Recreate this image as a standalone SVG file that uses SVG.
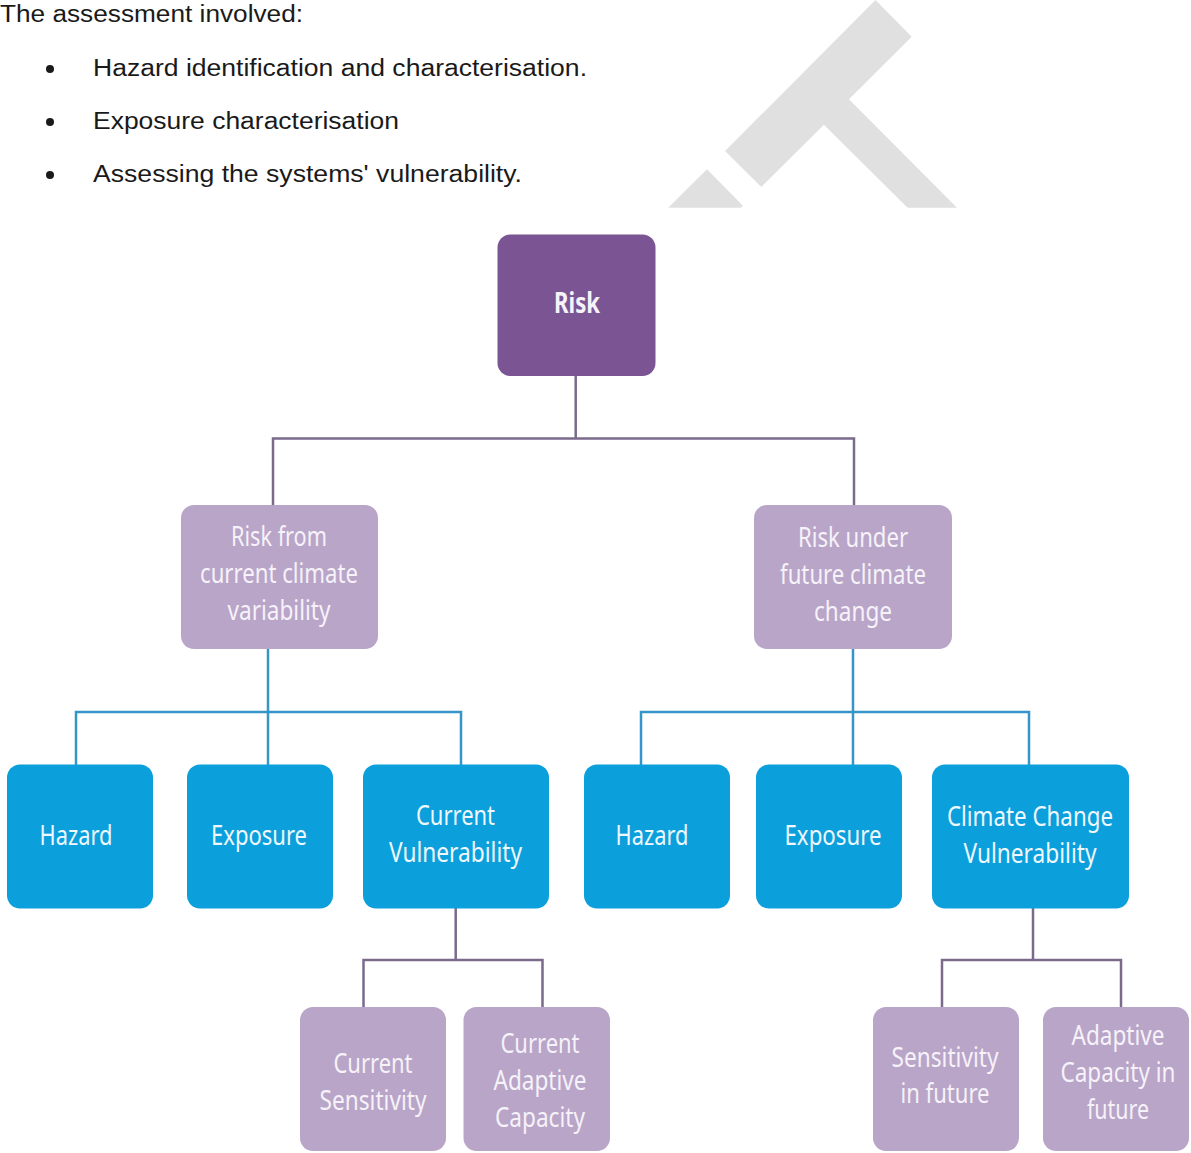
<svg xmlns="http://www.w3.org/2000/svg" width="1191" height="1153" viewBox="0 0 1191 1153">
  <style>
    .intro { font-family: "Liberation Sans", Arial, sans-serif; font-size: 23.5px; fill: #1a1a1a; }
    .lbl { font-family: "Noto Sans", "Open Sans", sans-serif; font-size: 28px; text-anchor: middle; }
    .onBlue { fill: #eef8fd; }
    .onLav { fill: #f6f2f9; }
    .root { fill: #7b5493; }
    .lav { fill: #b9a5c8; }
    .blue { fill: #0b9fdc; }
    .linkP { stroke: #7b6a8c; stroke-width: 2.5; fill: none; }
    .linkB { stroke: #3496c8; stroke-width: 2.5; fill: none; }
  </style>

  <rect width="1191" height="1153" fill="#ffffff"/>

  <!-- faint logo mark at the top -->
  <g id="watermark" fill="#e0e0e0">
    <polygon points="875.5,0 911.7,36.7 849,99.3 957,207.7 907.6,207.7 823.9,124.7 761.3,187 725,151"/>
    <polygon points="668.2,207.7 707,169.3 742.9,205.7 741,207.7"/>
  </g>

  <!-- intro text -->
  <g id="intro">
    <text class="intro" x="0" y="22" textLength="303" lengthAdjust="spacingAndGlyphs">The assessment involved:</text>
    <circle cx="50" cy="69" r="4" fill="#1a1a1a"/>
    <text class="intro" x="93" y="75.7" textLength="494" lengthAdjust="spacingAndGlyphs">Hazard identification and characterisation.</text>
    <circle cx="50" cy="122" r="4" fill="#1a1a1a"/>
    <text class="intro" x="93" y="128.7" textLength="306" lengthAdjust="spacingAndGlyphs">Exposure characterisation</text>
    <circle cx="50" cy="175" r="4" fill="#1a1a1a"/>
    <text class="intro" x="93" y="181.7" textLength="429" lengthAdjust="spacingAndGlyphs">Assessing the systems' vulnerability.</text>
  </g>

  <!-- connectors -->
  <g id="connectors">
    <path class="linkP" d="M575.7,376 V438.5 M273,505 V438.5 H854 V505"/>
    <path class="linkB" d="M268,649 V712 M76,765 V712 H461 V765 M268,712 V765"/>
    <path class="linkB" d="M853,649 V712 M641,765 V712 H1029 V765 M853,712 V765"/>
    <path class="linkP" d="M455.7,908 V960 M363.5,1008 V960 H542.5 V1008"/>
    <path class="linkP" d="M1033,908 V960 M942,1008 V960 H1121 V1008"/>
  </g>

  <!-- level 0 -->
  <g id="risk">
    <rect class="root" x="497.5" y="234.5" width="158" height="141.5" rx="13"/>
    <text class="lbl" x="577" y="312.5" fill="#f6f2f9" font-weight="bold" textLength="46" lengthAdjust="spacingAndGlyphs">Risk</text>
  </g>

  <!-- level 1 -->
  <g id="risk-current">
    <rect class="lav" x="181" y="505" width="197" height="144" rx="13"/>
    <text class="lbl onLav" x="279" y="546" textLength="96" lengthAdjust="spacingAndGlyphs">Risk from</text>
    <text class="lbl onLav" x="279" y="583" textLength="158" lengthAdjust="spacingAndGlyphs">current climate</text>
    <text class="lbl onLav" x="279" y="620" textLength="103" lengthAdjust="spacingAndGlyphs">variability</text>
  </g>
  <g id="risk-future">
    <rect class="lav" x="754" y="505" width="198" height="144" rx="13"/>
    <text class="lbl onLav" x="853" y="547" textLength="110" lengthAdjust="spacingAndGlyphs">Risk under</text>
    <text class="lbl onLav" x="853" y="584" textLength="146" lengthAdjust="spacingAndGlyphs">future climate</text>
    <text class="lbl onLav" x="853" y="621" textLength="78" lengthAdjust="spacingAndGlyphs">change</text>
  </g>

  <!-- level 2 -->
  <g id="hazard-current">
    <rect class="blue" x="7" y="764.5" width="146" height="144" rx="13"/>
    <text class="lbl onBlue" x="76" y="845" textLength="73" lengthAdjust="spacingAndGlyphs">Hazard</text>
  </g>
  <g id="exposure-current">
    <rect class="blue" x="187" y="764.5" width="146" height="144" rx="13"/>
    <text class="lbl onBlue" x="259" y="845" textLength="96" lengthAdjust="spacingAndGlyphs">Exposure</text>
  </g>
  <g id="vulnerability-current">
    <rect class="blue" x="363" y="764.5" width="186" height="144" rx="13"/>
    <text class="lbl onBlue" x="455.5" y="825" textLength="79" lengthAdjust="spacingAndGlyphs">Current</text>
    <text class="lbl onBlue" x="455.5" y="862" textLength="133" lengthAdjust="spacingAndGlyphs">Vulnerability</text>
  </g>
  <g id="hazard-future">
    <rect class="blue" x="584" y="764.5" width="146" height="144" rx="13"/>
    <text class="lbl onBlue" x="652" y="845" textLength="73" lengthAdjust="spacingAndGlyphs">Hazard</text>
  </g>
  <g id="exposure-future">
    <rect class="blue" x="756" y="764.5" width="146" height="144" rx="13"/>
    <text class="lbl onBlue" x="833" y="845" textLength="97" lengthAdjust="spacingAndGlyphs">Exposure</text>
  </g>
  <g id="vulnerability-future">
    <rect class="blue" x="932" y="764.5" width="197" height="144" rx="13"/>
    <text class="lbl onBlue" x="1030" y="826" textLength="166" lengthAdjust="spacingAndGlyphs">Climate Change</text>
    <text class="lbl onBlue" x="1030" y="863" textLength="133" lengthAdjust="spacingAndGlyphs">Vulnerability</text>
  </g>

  <!-- level 3 -->
  <g id="sensitivity-current">
    <rect class="lav" x="300" y="1007" width="146" height="144" rx="13"/>
    <text class="lbl onLav" x="373" y="1073" textLength="79" lengthAdjust="spacingAndGlyphs">Current</text>
    <text class="lbl onLav" x="373" y="1110" textLength="107" lengthAdjust="spacingAndGlyphs">Sensitivity</text>
  </g>
  <g id="adaptive-current">
    <rect class="lav" x="463.5" y="1007" width="146.5" height="144" rx="13"/>
    <text class="lbl onLav" x="540" y="1053" textLength="79" lengthAdjust="spacingAndGlyphs">Current</text>
    <text class="lbl onLav" x="540" y="1090" textLength="93" lengthAdjust="spacingAndGlyphs">Adaptive</text>
    <text class="lbl onLav" x="540" y="1127" textLength="90" lengthAdjust="spacingAndGlyphs">Capacity</text>
  </g>
  <g id="sensitivity-future">
    <rect class="lav" x="873" y="1007" width="146" height="144" rx="13"/>
    <text class="lbl onLav" x="945" y="1067" textLength="107" lengthAdjust="spacingAndGlyphs">Sensitivity</text>
    <text class="lbl onLav" x="945" y="1103" textLength="89" lengthAdjust="spacingAndGlyphs">in future</text>
  </g>
  <g id="adaptive-future">
    <rect class="lav" x="1043" y="1007" width="146" height="144" rx="13"/>
    <text class="lbl onLav" x="1118" y="1045" textLength="93" lengthAdjust="spacingAndGlyphs">Adaptive</text>
    <text class="lbl onLav" x="1118" y="1082" textLength="115" lengthAdjust="spacingAndGlyphs">Capacity in</text>
    <text class="lbl onLav" x="1118" y="1119" textLength="62" lengthAdjust="spacingAndGlyphs">future</text>
  </g>
</svg>
